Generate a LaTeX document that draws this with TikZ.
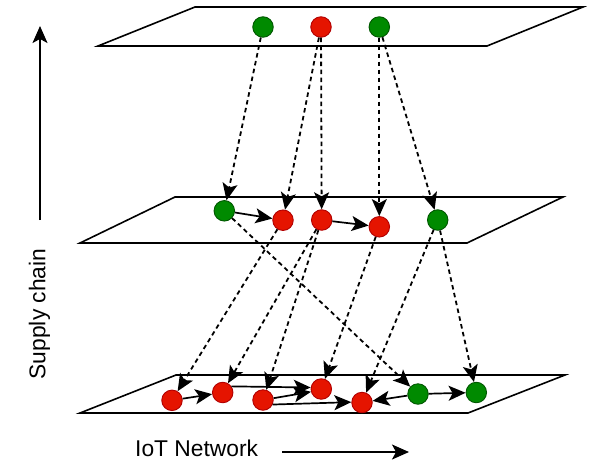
\documentclass[tikz,border=0pt]{standalone}
\usepackage{fontspec}
\setmainfont{Liberation Sans}
\usetikzlibrary{arrows.meta}
\definecolor{redfill}{HTML}{E51400}
\definecolor{redline}{HTML}{B20000}
\definecolor{greenfill}{HTML}{008A00}
\definecolor{greenline}{HTML}{005700}
\tikzset{
  plane/.style={draw=black, line width=1.6pt, fill=white, line join=miter},
  dev/.style={circle, minimum size=20.5pt, inner sep=0pt, line width=0.9pt},
  rdev/.style={dev, fill=redfill, draw=redline},
  gdev/.style={dev, fill=greenfill, draw=greenline},
  tip/.style={-{Stealth[length=17pt,width=15pt,inset=4pt]}},
  link/.style={tip, line width=1.7pt},
  flow/.style={tip, line width=1.8pt, dash pattern=on 4.5pt off 3.5pt},
  axis/.style={tip, line width=1.5pt},
  lbl/.style={font=\fontsize{22.8}{27}\selectfont, inner sep=0pt}
}
\begin{document}
\begin{tikzpicture}[x=1pt, y=-1pt]
  \useasboundingbox (0,0) rectangle (593,461);

  % three layers
  \draw[plane] (98,46) -- (195,7) -- (583,7) -- (487,46) -- cycle;
  \draw[plane] (80,243) -- (175,197) -- (563,197) -- (467,243) -- cycle;
  \draw[plane] (80,413) -- (176,375) -- (565,375) -- (468,413) -- cycle;

  % top layer devices
  \node[gdev] (t1) at (263,27) {};
  \node[rdev] (t2) at (321,27) {};
  \node[gdev] (t3) at (379.3,27) {};

  % middle layer devices
  \node[gdev] (m1) at (224.3,210.8) {};
  \node[rdev] (m2) at (283,220.2) {};
  \node[rdev] (m3) at (321.7,220) {};
  \node[rdev] (m4) at (379.3,226.8) {};
  \node[gdev] (m5) at (437.7,220) {};

  % bottom layer devices
  \node[rdev] (b1) at (172,400.3) {};
  \node[rdev] (b2) at (222.7,392.5) {};
  \node[rdev] (b3) at (263,400) {};
  \node[rdev] (b4) at (321.3,389) {};
  \node[rdev] (b5) at (362,402.5) {};
  \node[gdev] (b6) at (418,394) {};
  \node[gdev] (b7) at (476.3,392.5) {};

  % flows between layers
  \draw[flow] (t1) -- (m1);
  \draw[flow] (t2) -- (m2);
  \draw[flow] (t2) -- (m3);
  \draw[flow] (t3) -- (m4);
  \draw[flow] (t3) -- (m5);

  \draw[flow] (m1) -- (b6);
  \draw[flow] (m2) -- (b1);
  \draw[flow] (m3) -- (b2);
  \draw[flow] (m3) -- (b3);
  \draw[flow] (m4) -- (b4);
  \draw[flow] (m5) -- (b5);
  \draw[flow] (m5) -- (b7);

  % links inside the middle layer
  \draw[link] (m1) -- (m2);
  \draw[link] (m3) -- (m4);

  % links inside the bottom layer
  \draw[link] (b1) -- (b2);
  \draw[link] (b2.35) -- (b4.172);
  \draw[link] (b3) -- (b4.195);
  \draw[link] (b3.-25) -- (b5.178);
  \draw[link] (b6) -- (b5);
  \draw[link] (b6) -- (b7);

  % axes
  \coordinate (ya) at (40,220);
  \coordinate (yb) at (40,26);
  \draw[axis] (ya) -- (yb);
  \node[lbl, rotate=90] (ylab) at (39.5,314) {Supply chain};

  \coordinate (xa) at (282,452);
  \coordinate (xb) at (409,452);
  \draw[axis] (xa) -- (xb);
  \node[lbl, anchor=base west] (xlab) at (135,456.5) {IoT Network};
\end{tikzpicture}
\end{document}
